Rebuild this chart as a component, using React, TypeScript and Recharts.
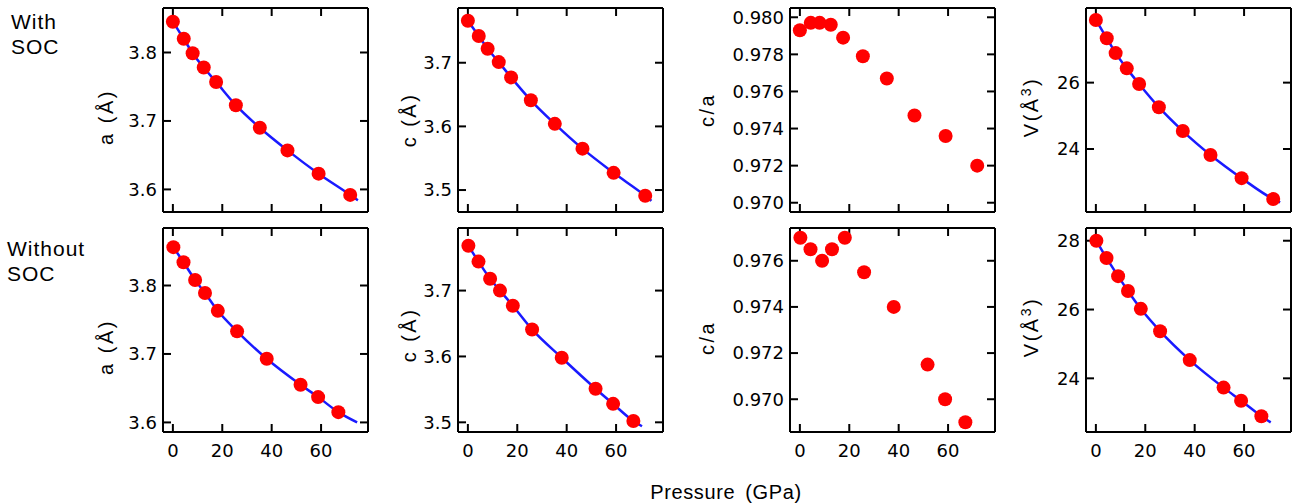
import React from "react";
import { ComposedChart, Line, Scatter, XAxis, YAxis } from "recharts";

// pressures (GPa)
const pressureSOC = [0, 4.4, 8, 12.5, 17.5, 25.5, 35.2, 46.4, 59, 71.8];
const pressureNoSOC = [0.2, 4.3, 9, 13, 18.2, 26, 38, 51.7, 58.8, 67];

// with SOC
const aSOC = [3.845, 3.82, 3.799, 3.778, 3.757, 3.723, 3.69, 3.657, 3.623, 3.592];
const cSOC = [3.766, 3.742, 3.722, 3.701, 3.677, 3.641, 3.604, 3.565, 3.527, 3.491];
const caSOC = [0.9793, 0.9797, 0.9797, 0.9796, 0.9789, 0.9779, 0.9767, 0.9747, 0.9736, 0.972];
const vSOC = [27.89, 27.34, 26.89, 26.43, 25.96, 25.26, 24.54, 23.82, 23.12, 22.49];

// without SOC
const aNoSOC = [3.856, 3.834, 3.808, 3.789, 3.763, 3.733, 3.693, 3.655, 3.637, 3.615];
const cNoSOC = [3.768, 3.744, 3.718, 3.7, 3.677, 3.641, 3.598, 3.551, 3.528, 3.502];
const caNoSOC = [0.977, 0.9765, 0.976, 0.9765, 0.977, 0.9755, 0.974, 0.9715, 0.97, 0.969];
const vNoSOC = [28.0, 27.5, 26.97, 26.54, 26.02, 25.37, 24.53, 23.73, 23.35, 22.9];

// where the fitted curves stop (pressure, value)
const fitEndSOC = { a: [74.9, 3.584], c: [74.3, 3.483], v: [74.6, 22.39] };
const fitEndNoSOC = { a: [74.6, 3.6], c: [70.5, 3.494], v: [70.8, 22.72] };

const xTicks = [0, 20, 40, 60];
const abTicks = [3.6, 3.7, 3.8];
const cTicks = [3.5, 3.6, 3.7];
const caTicksSOC = [0.97, 0.972, 0.974, 0.976, 0.978, 0.98];
const caTicksNoSOC = [0.97, 0.972, 0.974, 0.976];
const vTicksSOC = [24, 26];
const vTicksNoSOC = [24, 26, 28];

const zip = (xs: number[], ys: number[]) => xs.map((p, i) => ({ p, v: ys[i] }));

const PLOT_W = 205;
const PLOT_H = 204;
const AXIS_W = 70;
const TICK_FONT = { fontFamily: "DejaVu Sans", fontSize: 18, fill: "#000" };
const LABEL_FONT = "'Liberation Sans', Arial, sans-serif";
const axisStyle = { stroke: "#000", strokeWidth: 2 };

type PanelProps = {
  left: number;
  top: number;
  xs: number[];
  ys: number[];
  fitEnd?: number[];
  domain: [number, number];
  ticks: number[];
  digits: number;
  showX: boolean;
  label: React.ReactNode;
  labelX: number;
  labelY: number;
};

const Dot = (props: any) => <circle cx={props.cx} cy={props.cy} r={7} fill="#ff0000" />;

const Panel = ({ left, top, xs, ys, fitEnd, domain, ticks, digits, showX, label, labelX, labelY }: PanelProps) => {
  const pts = zip(xs, ys);
  const fit = fitEnd ? [...pts, { p: fitEnd[0], v: fitEnd[1] }] : null;
  const blank = () => "";
  return (
    <>
      <div style={{ position: "absolute", left: left - AXIS_W, top: top - 4 }}>
        <ComposedChart width={AXIS_W + PLOT_W + 4} height={PLOT_H + 4 + 34} margin={{ top: 3, right: 3, bottom: 0, left: 0 }}>
          <XAxis
            xAxisId="b"
            type="number"
            dataKey="p"
            domain={[-4, 79]}
            allowDataOverflow
            ticks={xTicks}
            interval={0}
            height={34}
            tickSize={-8}
            tickMargin={20}
            axisLine={axisStyle}
            tickLine={axisStyle}
            tick={TICK_FONT}
            tickFormatter={showX ? (v: number) => String(v) : blank}
          />
          <XAxis
            xAxisId="t"
            orientation="top"
            type="number"
            dataKey="p"
            domain={[-4, 79]}
            allowDataOverflow
            ticks={xTicks}
            interval={0}
            height={1}
            tickSize={-8}
            axisLine={axisStyle}
            tickLine={axisStyle}
            tickFormatter={blank}
          />
          <YAxis
            yAxisId="l"
            type="number"
            dataKey="v"
            domain={domain}
            allowDataOverflow
            ticks={ticks}
            interval={0}
            width={AXIS_W}
            tickSize={-8}
            tickMargin={14}
            axisLine={axisStyle}
            tickLine={axisStyle}
            tick={TICK_FONT}
            tickFormatter={(v: number) => v.toFixed(digits)}
          />
          <YAxis
            yAxisId="r"
            orientation="right"
            type="number"
            dataKey="v"
            domain={domain}
            allowDataOverflow
            ticks={ticks}
            interval={0}
            width={1}
            tickSize={-8}
            axisLine={axisStyle}
            tickLine={axisStyle}
            tickFormatter={blank}
          />
          {fit && (
            <Line
              xAxisId="b"
              yAxisId="l"
              data={fit}
              dataKey="v"
              type="monotone"
              stroke="#1a1aff"
              strokeWidth={2.5}
              dot={false}
              activeDot={false}
              isAnimationActive={false}
            />
          )}
          <Scatter xAxisId="b" yAxisId="l" data={pts} dataKey="v" shape={Dot} isAnimationActive={false} />
          {/* keep the mirror axes bound to something so they get drawn */}
          <Scatter xAxisId="t" yAxisId="r" data={pts} dataKey="v" shape={() => <g />} isAnimationActive={false} />
        </ComposedChart>
      </div>
      <div
        style={{
          position: "absolute",
          left: labelX,
          top: labelY,
          transform: "translate(-50%, -50%) rotate(-90deg)",
          whiteSpace: "nowrap",
          fontFamily: LABEL_FONT,
          fontSize: 20,
          letterSpacing: 2.5,
        }}
      >
        {label}
      </div>
    </>
  );
};

const Vlabel = (
  <span>
    V(Å<sup style={{ fontSize: 14 }}>3</sup>)
  </span>
);

const cols = [163, 458, 790, 1086];
const rows = [8, 228];

export default function App() {
  const textStyle: React.CSSProperties = {
    position: "absolute",
    fontFamily: LABEL_FONT,
    fontSize: 21,
    letterSpacing: 1,
    lineHeight: "23px",
    whiteSpace: "nowrap",
  };
  return (
    <div style={{ position: "absolute", left: 0, top: 0, width: 1292, height: 503, background: "#fff" }}>
      <div style={{ ...textStyle, left: 11, top: 10 }}>With</div>
      <div style={{ ...textStyle, left: 11, top: 35 }}>SOC</div>
      <div style={{ ...textStyle, left: 7, top: 237 }}>Without</div>
      <div style={{ ...textStyle, left: 7, top: 262 }}>SOC</div>

      <Panel left={cols[0]} top={rows[0]} xs={pressureSOC} ys={aSOC} fitEnd={fitEndSOC.a} domain={[3.567, 3.865]} ticks={abTicks} digits={1} showX={false} label="a (Å)" labelX={106} labelY={117} />
      <Panel left={cols[1]} top={rows[0]} xs={pressureSOC} ys={cSOC} fitEnd={fitEndSOC.c} domain={[3.4655, 3.786]} ticks={cTicks} digits={1} showX={false} label="c (Å)" labelX={409} labelY={120} />
      <Panel left={cols[2]} top={rows[0]} xs={pressureSOC} ys={caSOC} domain={[0.9695, 0.9805]} ticks={caTicksSOC} digits={3} showX={false} label="c/a" labelX={707} labelY={110} />
      <Panel left={cols[3]} top={rows[0]} xs={pressureSOC} ys={vSOC} fitEnd={fitEndSOC.v} domain={[22.1, 28.25]} ticks={vTicksSOC} digits={0} showX={false} label={Vlabel} labelX={1030} labelY={107} />

      <Panel left={cols[0]} top={rows[1]} xs={pressureNoSOC} ys={aNoSOC} fitEnd={fitEndNoSOC.a} domain={[3.586, 3.884]} ticks={abTicks} digits={1} showX label="a (Å)" labelX={106} labelY={347} />
      <Panel left={cols[1]} top={rows[1]} xs={pressureNoSOC} ys={cNoSOC} fitEnd={fitEndNoSOC.c} domain={[3.4853, 3.795]} ticks={cTicks} digits={1} showX label="c (Å)" labelX={409} labelY={335} />
      <Panel left={cols[2]} top={rows[1]} xs={pressureNoSOC} ys={caNoSOC} domain={[0.96858, 0.97742]} ticks={caTicksNoSOC} digits={3} showX label="c/a" labelX={707} labelY={338} />
      <Panel left={cols[3]} top={rows[1]} xs={pressureNoSOC} ys={vNoSOC} fitEnd={fitEndNoSOC.v} domain={[22.44, 28.37]} ticks={vTicksNoSOC} digits={0} showX label={Vlabel} labelX={1030} labelY={327} />

      <div style={{ ...textStyle, fontSize: 20, letterSpacing: 0.6, wordSpacing: 4, left: 726, top: 492, transform: "translate(-50%, -50%)" }}>
        Pressure (GPa)
      </div>
    </div>
  );
}
